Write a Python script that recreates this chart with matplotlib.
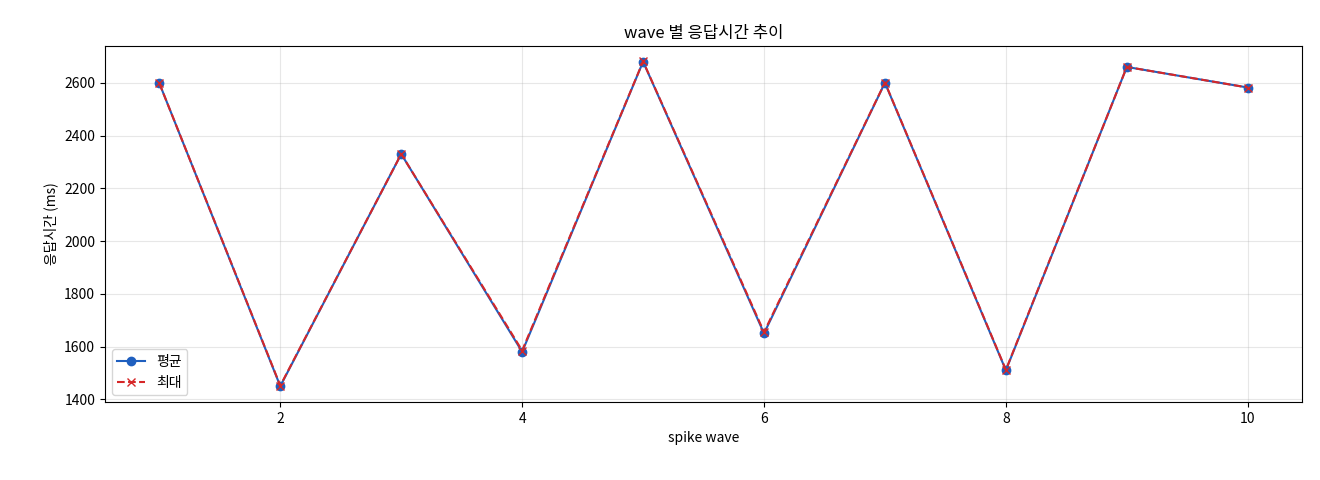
import matplotlib
matplotlib.use("Agg")
import matplotlib.pyplot as plt

plt.rcParams['font.family'] = ['Noto Sans CJK KR', 'DejaVu Sans']
plt.rcParams['axes.unicode_minus'] = False

waves = [1, 2, 3, 4, 5, 6, 7, 8, 9, 10]
avg_ms = [2598, 1450, 2330, 1580, 2680, 1650, 2600, 1510, 2660, 2582]
max_ms = [2598, 1452, 2330, 1585, 2681, 1655, 2601, 1512, 2660, 2582]

fig = plt.figure(figsize=(13.2, 4.8), dpi=100)
ax = fig.add_axes([0.0795, 0.1625, 0.907, 0.742])
ax.plot(waves, avg_ms, marker='o', color='#1f5fbf', label='평균', markersize=6)
ax.plot(waves, max_ms, marker='x', linestyle='--', color='#d62728', label='최대', markersize=6)
ax.set_title('wave 별 응답시간 추이')
ax.set_xlabel('spike wave')
ax.set_ylabel('응답시간 (ms)')
ax.grid(True, alpha=0.3)
ax.set_ylim(1390, 2740)
ax.legend(loc='lower left')
fig.savefig('out.png')
